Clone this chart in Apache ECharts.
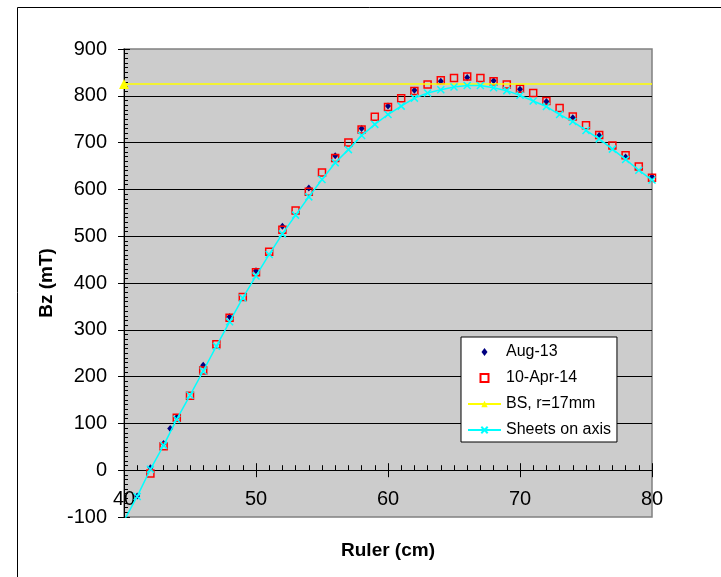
<!DOCTYPE html>
<html>
<head>
<meta charset="utf-8">
<script src="https://cdn.jsdelivr.net/npm/echarts@6/dist/echarts.min.js"></script>
<style>
html, body { margin: 0; padding: 0; background: #fff; }
#container { width: 721px; height: 577px; }
</style>
</head>
<body>
<div id="container"></div>
<script>
// Ruler position (cm) and Bz (mT)
var aug13X = [41, 42, 43, 43.5, 44, 46, 48, 50, 52, 54, 56, 58, 60, 62, 64, 66, 68, 70, 72, 74, 76, 78, 80];
var aug13Y = [-55, 5, 57, 89, 113, 224, 328, 426, 521, 603, 672, 730, 778, 812, 831, 839, 832, 814, 788, 753, 715, 669, 627];

var apr14X = [42, 43, 44, 45, 46, 47, 48, 49, 50, 51, 52, 53, 54, 55, 56, 57, 58, 59, 60, 61,
              62, 63, 64, 65, 66, 67, 68, 69, 70, 71, 72, 73, 74, 75, 76, 77, 78, 79, 80];
var apr14Y = [-7, 51, 112, 159, 213, 269, 326, 370, 423, 467, 514, 555, 595, 636, 667, 700, 728, 755, 776, 795,
              810, 824, 833, 838, 841, 838, 831, 824, 815, 806, 789, 774, 756, 737, 716, 694, 673, 649, 625];

var bsX = [40, 80];
var bsY = [825, 825];

var sheetsX = [40, 41, 42, 43, 44, 45, 46, 47, 48, 49, 50, 51, 52, 53, 54, 55, 56, 57, 58, 59, 60,
               61, 62, 63, 64, 65, 66, 67, 68, 69, 70, 71, 72, 73, 74, 75, 76, 77, 78, 79, 80, 81];
var sheetsY = [-108, -56, 2, 53, 109, 160, 212, 265, 317, 368, 415, 461, 505, 545, 584, 621, 657, 685, 715, 739, 760,
               778, 795, 806, 813, 819, 822, 822, 817, 811, 801, 789, 777, 760, 745, 726, 708, 686, 664, 641, 620, 597];

var seriesNames = ['Aug-13', '10-Apr-14', 'BS, r=17mm', 'Sheets on axis'];
var xRange = [40, 80];
var yRange = [-100, 900];

var dom = document.getElementById("container");
var myChart = echarts.init(dom);
var option = null;

var pairs = function (xs, ys) {
    var res = [];
    for (var i = 0; i < xs.length; i++) {
        res.push([xs[i], ys[i]]);
    }
    return res;
};

var font = 'Liberation Sans, Arial, sans-serif';
var H = 577;
var plot = { left: 124, right: 69, top: 49, bottom: 60 };
// the category axis crosses at Bz = 0; work out where that sits inside the plot
var plotH = H - plot.top - plot.bottom;
var zeroY = plot.top + plotH * (yRange[1] - 0) / (yRange[1] - yRange[0]);
var zeroRect = { left: plot.left, right: plot.right, top: plot.top, bottom: H - zeroY };

var bsData = pairs(bsX, bsY).map(function (p, i) {
    // only the first point carries the triangle marker
    return i === 0 ? { value: p } : { value: p, symbol: 'none' };
});

var hiddenAxis = function (grid, range) {
    return { type: 'value', gridIndex: grid, min: range[0], max: range[1], show: false };
};

option = {
    backgroundColor: '#fff',
    animation: false,
    textStyle: { fontFamily: font },
    graphic: [{
        type: 'rect',
        shape: { x: 17.5, y: 7.5, width: 760, height: 620 },
        style: { fill: null, stroke: '#000', lineWidth: 1 },
        silent: true
    }],
    grid: [{
        left: plot.left, right: plot.right, top: plot.top, bottom: plot.bottom,
        show: true,
        backgroundColor: '#cccccc',
        borderColor: '#808080',
        borderWidth: 1.5
    }, {
        left: plot.left, right: plot.right, top: plot.top, bottom: plot.bottom, show: false
    }, {
        left: zeroRect.left, right: zeroRect.right, top: zeroRect.top, bottom: zeroRect.bottom, show: false
    }, {
        left: zeroRect.left, right: zeroRect.right, top: zeroRect.top, bottom: zeroRect.bottom, show: false
    }],
    legend: {
        orient: 'vertical',
        left: 461,
        top: 337,
        padding: [7, 6, 4, 6],
        itemGap: 10,
        itemWidth: 33,
        itemHeight: 8,
        backgroundColor: '#fff',
        borderColor: '#000',
        borderWidth: 1,
        borderRadius: 0,
        textStyle: { fontFamily: font, fontSize: 16, color: '#000' },
        data: [
            { name: seriesNames[0], icon: 'path://M0,-1L0.75,0L0,1L-0.75,0Z' },
            { name: seriesNames[1], icon: 'path://M0,0L1,0L1,1L0,1Z' },
            { name: seriesNames[2] },
            { name: seriesNames[3] }
        ]
    },
    xAxis: [
        hiddenAxis(0, xRange),
        hiddenAxis(1, xRange),
        {
            type: 'value',
            gridIndex: 2,
            min: xRange[0], max: xRange[1], interval: 10,
            name: 'Ruler (cm)',
            nameLocation: 'middle',
            nameGap: 71,
            nameTextStyle: { fontFamily: font, fontSize: 19, fontWeight: 'bold', color: '#000' },
            axisLine: { show: true, onZero: false, lineStyle: { color: '#000', width: 1 } },
            axisTick: { inside: true, length: 7, lineStyle: { color: '#000' } },
            minorTick: { show: true, splitNumber: 10, length: 5, lineStyle: { color: '#000' } },
            axisLabel: { fontFamily: font, fontSize: 20, color: '#000', margin: 19 },
            splitLine: { show: false }
        }, {
            type: 'value',
            gridIndex: 3,
            min: xRange[0], max: xRange[1], interval: 10,
            axisLine: { show: false, onZero: false },
            axisTick: { inside: false, length: 7, lineStyle: { color: '#000' } },
            axisLabel: { show: false },
            splitLine: { show: false }
        }
    ],
    yAxis: [{
        type: 'value',
        gridIndex: 0,
        min: yRange[0], max: yRange[1], interval: 100,
        name: 'Bz (mT)',
        nameLocation: 'middle',
        nameGap: 68,
        nameTextStyle: { fontFamily: font, fontSize: 19, fontWeight: 'bold', color: '#000' },
        axisLine: { show: true, onZero: false, lineStyle: { color: '#000', width: 1 } },
        axisTick: { inside: true, length: 6, lineStyle: { color: '#000' } },
        minorTick: { show: true, splitNumber: 10, length: 4, lineStyle: { color: '#000' } },
        axisLabel: { fontFamily: font, fontSize: 20, color: '#000', margin: 17 },
        splitLine: { show: true, showMinLine: false, showMaxLine: false, lineStyle: { color: '#000', width: 1 } }
    }, {
        type: 'value',
        gridIndex: 1,
        min: yRange[0], max: yRange[1], interval: 100,
        axisLine: { show: false, onZero: false },
        axisTick: { show: true, inside: false, length: 6, lineStyle: { color: '#000' } },
        axisLabel: { show: false },
        splitLine: { show: false }
    },
        hiddenAxis(2, [0, 900]),
        hiddenAxis(3, [0, 900])
    ],
    series: [{
        name: seriesNames[0],
        type: 'scatter',
        symbol: 'diamond',
        symbolSize: [6, 7],
        itemStyle: { color: '#000080', opacity: 1 },
        data: pairs(aug13X, aug13Y)
    }, {
        name: seriesNames[1],
        type: 'scatter',
        symbol: 'rect',
        symbolSize: 7,
        itemStyle: { color: 'rgba(0,0,0,0)', borderColor: '#ff0000', borderWidth: 1.5, opacity: 1 },
        data: pairs(apr14X, apr14Y)
    }, {
        name: seriesNames[2],
        type: 'line',
        symbol: 'triangle',
        symbolSize: 10,
        showAllSymbol: true,
        lineStyle: { color: '#ffff00', width: 1.5 },
        itemStyle: { color: '#ffff00' },
        data: bsData
    }, {
        name: seriesNames[3],
        type: 'line',
        symbol: 'path://M0,0L10,10M10,0L0,10',
        symbolSize: 7,
        showAllSymbol: true,
        lineStyle: { color: '#00ffff', width: 1.5 },
        itemStyle: { color: '#00ffff', borderColor: '#00ffff', borderWidth: 1.5 },
        data: pairs(sheetsX, sheetsY)
    }]
};

if (option && typeof option === "object") {
    myChart.setOption(option, true);
}
</script>
</body>
</html>
